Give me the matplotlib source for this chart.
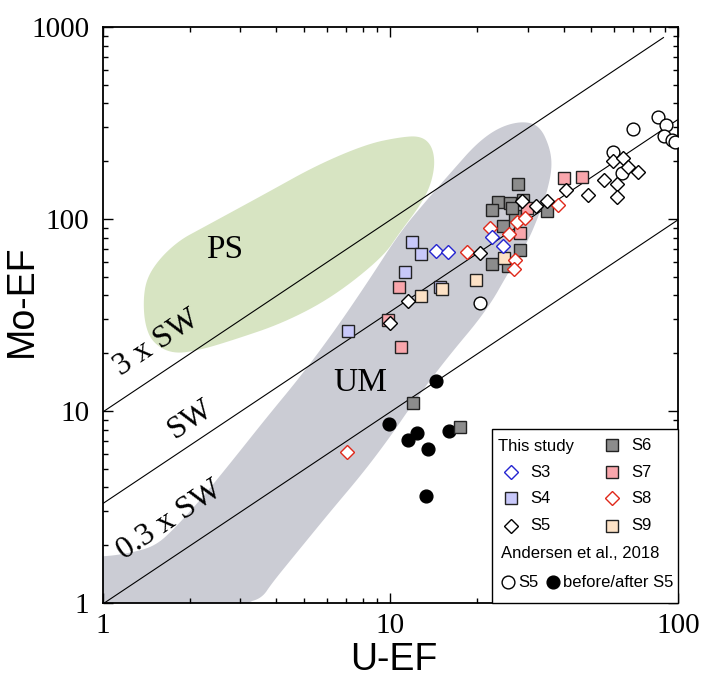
import numpy as np
import matplotlib
matplotlib.use("Agg")
import matplotlib.pyplot as plt
from matplotlib.patches import Polygon, Rectangle

SERIF = "Liberation Serif"
SANS = "Liberation Sans"

# seawater Mo-EF / U-EF ratio and the reference lines
SW_RATIO = 3.3
SW_FACTORS = [0.3, 1.0, 3.0]
SW_XMAX = [100, 100, 89]

# outlines of the shaded fields (U-EF, Mo-EF)
ps_u = [1.75, 1.49, 1.40, 1.38, 1.42, 1.58, 1.85, 2.18, 3.72, 5.55, 8.29, 10.8,
        12.7, 13.9, 14.3, 13.8, 12.7, 10.8, 9.42, 6.31, 4.23, 2.83, 2.18]
ps_mo = [19.8, 22.6, 28.0, 37.9, 49.3, 62.7, 77.7, 88.7, 137, 191, 246, 267,
         271, 243, 196, 150, 118, 85.6, 63.4, 39.3, 28.7, 23.4, 20.8]

um_u = [0.7, 0.7, 1.0, 1.24, 1.52, 1.78, 2.18, 2.83, 3.72, 4.84, 6.31, 8.29, 10.8,
        13.4, 16.5, 20.0, 24.0, 28.9, 33.1, 35.9, 36.5, 35.0, 33.1, 29.9, 26.0,
        21.7, 15.5, 12.0, 9.96, 8.02, 6.16, 4.65, 3.87, 3.57, 3.12, 2.9]
um_mo = [0.7, 1.74, 1.74, 1.82, 1.98, 2.46, 3.44, 5.56, 9.31, 15.0, 25.5, 46.4, 85.6,
         126, 180, 249, 302, 324, 305, 234, 184, 138, 108, 75.0, 54.3,
         33.6, 18.4, 11.0, 7.32, 4.76, 2.98, 1.78, 1.27, 1.06, 1.0, 0.7]

# this study
s3_u = [14.4, 15.9, 22.6, 24.6]
s3_mo = [68.4, 67.1, 80.9, 72.3]

s4_u = [11.85, 12.8, 11.2, 14.9, 7.13]
s4_mo = [76.2, 65.7, 53.2, 44.1, 26.1]

s5_u = [59.3, 64.5, 67.2, 72.4, 55.4, 61.2, 61.2, 48.8, 40.7, 34.9, 32.0, 28.7,
        20.4, 11.5, 9.96]
s5_mo = [201, 207, 187, 176, 160, 152, 131, 133, 142, 124, 117, 124,
         66.3, 37.4, 28.8]

s6_u = [27.8, 23.7, 22.5, 26.0, 29.0, 27.1, 24.6, 34.9, 28.2, 22.5, 25.6, 12.0,
        17.5, 26.4]
s6_mo = [152, 122, 112, 121, 126, 104, 92.3, 110, 68.7, 58.1, 56.9, 11.05,
         8.23, 114]

s7_u = [40.1, 46.2, 28.2, 29.8, 10.7, 9.82, 10.9]
s7_mo = [164, 166, 84.8, 114, 44.1, 29.8, 21.6]

s8_u = [18.4, 22.2, 25.8, 27.5, 29.4, 38.2, 27.1, 26.9, 7.04]
s8_mo = [67.1, 90.1, 83.5, 96.8, 101, 118, 61.2, 54.7, 6.14]

s9_u = [12.8, 19.9, 24.8, 15.1]
s9_mo = [39.9, 48.1, 62.4, 43.2]

# Andersen et al., 2018
and_s5_u = [85.0, 69.6, 90.8, 89.4, 95.1, 97.6, 59.3, 63.7, 20.5]
and_s5_mo = [341, 293, 308, 271, 258, 253, 223, 173, 36.5]

and_other_u = [14.4, 9.9, 12.4, 11.5, 16.0, 13.5, 13.3]
and_other_mo = [14.4, 8.55, 7.71, 7.06, 7.87, 6.34, 3.61]

xticks = [1, 10, 100]
yticks = [1, 10, 100, 1000]

SQ = 8.8   # square marker size
DM = 7.6   # diamond marker size
CI = 9.2   # circle marker size


def chaikin(xs, ys, n=3):
    # smooth a closed outline in log space
    p = np.log10(np.column_stack([xs, ys]))
    for _ in range(n):
        q = np.roll(p, -1, axis=0)
        new = np.empty((2 * len(p), 2))
        new[0::2] = 0.75 * p + 0.25 * q
        new[1::2] = 0.25 * p + 0.75 * q
        p = new
    return 10 ** p


fig = plt.figure(figsize=(7.05, 6.84), dpi=100)
ax = fig.add_axes([0.1461, 0.1184, 0.8156, 0.8421])
ax.set_xscale("log")
ax.set_yscale("log")
ax.set_xlim(1, 100)
ax.set_ylim(1, 1000)

ax.add_patch(Polygon(chaikin(ps_u, ps_mo), closed=True, facecolor="#d7e4c2",
                     edgecolor="none", zorder=1))
ax.add_patch(Polygon(chaikin(um_u, um_mo), closed=True, facecolor="#cbccd4",
                     edgecolor="none", zorder=1))

for f, xm in zip(SW_FACTORS, SW_XMAX):
    xx = np.array([1, xm])
    ax.plot(xx, xx * SW_RATIO * f, color="black", lw=0.8, zorder=2)

mk = dict(linestyle="none", zorder=3)
ax.plot(and_s5_u, and_s5_mo, marker="o", ms=CI, mfc="white", mec="black", mew=1.0, **mk)
ax.plot(and_other_u, and_other_mo, marker="o", ms=CI, mfc="black", mec="black", mew=1.0, **mk)
ax.plot(s6_u, s6_mo, marker="s", ms=SQ, mfc="#8c8c8c", mec="#222222", mew=1.0, **mk)
ax.plot(s7_u, s7_mo, marker="s", ms=SQ, mfc="#f9a6ac", mec="#222222", mew=1.0, **mk)
ax.plot(s4_u, s4_mo, marker="s", ms=SQ, mfc="#c8c8fa", mec="#222222", mew=1.0, **mk)
ax.plot(s9_u, s9_mo, marker="s", ms=SQ, mfc="#fde2c6", mec="#222222", mew=1.0, **mk)
ax.plot(s8_u, s8_mo, marker="D", ms=DM, mfc="white", mec="#e0281a", mew=1.0, **mk)
ax.plot(s3_u, s3_mo, marker="D", ms=DM, mfc="white", mec="#2424d0", mew=1.0, **mk)
ax.plot(s5_u, s5_mo, marker="D", ms=DM, mfc="white", mec="black", mew=1.0, **mk)

# field and line labels
ax.text(2.66, 68.9, "PS", family=SERIF, fontsize=24, ha="center", va="center", zorder=4)
ax.text(7.83, 14.0, "UM", family=SERIF, fontsize=24, ha="center", va="center", zorder=4)
ax.text(1.54, 22.6, "3 x SW", family=SERIF, fontsize=23, rotation=33.7,
        rotation_mode="anchor", ha="center", va="center", zorder=4)
ax.text(2.02, 9.0, "SW", family=SERIF, fontsize=23, rotation=33.7,
        rotation_mode="anchor", ha="center", va="center", zorder=4)
ax.text(1.71, 2.7, "0.3 x SW", family=SERIF, fontsize=23, rotation=33.7,
        rotation_mode="anchor", ha="center", va="center", zorder=4)

# axes styling
ax.set_xticks(xticks)
ax.set_xticklabels([str(v) for v in xticks])
ax.set_yticks(yticks)
ax.set_yticklabels([str(v) for v in yticks])
ax.tick_params(which="both", direction="in", top=True, right=True, width=1.0)
ax.tick_params(which="major", length=7.5, pad=7, labelsize=21)
ax.tick_params(which="minor", length=3.8)
ax.tick_params(axis="y", which="major", pad=10)
for lab in ax.get_xticklabels() + ax.get_yticklabels():
    lab.set_family(SERIF)
for sp in ax.spines.values():
    sp.set_linewidth(1.3)

ax.text(0.506, -0.099, "U-EF", family=SANS, fontsize=27, ha="center", va="center",
        transform=ax.transAxes)
ax.text(-0.141, 0.525, "Mo-EF", family=SANS, fontsize=27, ha="center", va="center",
        rotation=90, transform=ax.transAxes)

# hand-made legend box
T = ax.transAxes
ax.add_patch(Rectangle((0.676, 0.0), 0.324, 0.3016, transform=T, facecolor="white",
                       edgecolor="black", lw=1.0, zorder=10, clip_on=False))
lg = dict(transform=T, linestyle="none", zorder=11, clip_on=False)
lt = dict(transform=T, family=SANS, fontsize=12, va="center", zorder=11)
ax.text(0.687, 0.2714, "This study", **lt)
col1 = [("D", "white", "#2424d0", "S3", 0.2269),
        ("s", "#c8c8fa", "#222222", "S4", 0.1823),
        ("D", "white", "black", "S5", 0.1345)]
col2 = [("s", "#8c8c8c", "#222222", "S6", 0.2743),
        ("s", "#f9a6ac", "#222222", "S7", 0.2269),
        ("D", "white", "#e0281a", "S8", 0.1823),
        ("s", "#fde2c6", "#222222", "S9", 0.1345)]
for m, fc, ec, name, yy in col1:
    ax.plot([0.7096], [yy], marker=m, ms=DM if m == "D" else SQ, mfc=fc, mec=ec, mew=1.0, **lg)
    ax.text(0.7426, yy, name, **lt)
for m, fc, ec, name, yy in col2:
    ax.plot([0.8847], [yy], marker=m, ms=DM if m == "D" else SQ, mfc=fc, mec=ec, mew=1.0, **lg)
    ax.text(0.9195, yy, name, **lt)
ax.text(0.6917, 0.0863, "Andersen et al., 2018", **lt)
ax.plot([0.7049], [0.0359], marker="o", ms=CI, mfc="white", mec="black", mew=1.0, **lg)
ax.text(0.7230, 0.0359, "S5", **lt)
ax.plot([0.7831], [0.0359], marker="o", ms=CI, mfc="black", mec="black", mew=1.0, **lg)
ax.text(0.800, 0.0359, "before/after S5", **lt)

plt.savefig("out.png", dpi=100)
